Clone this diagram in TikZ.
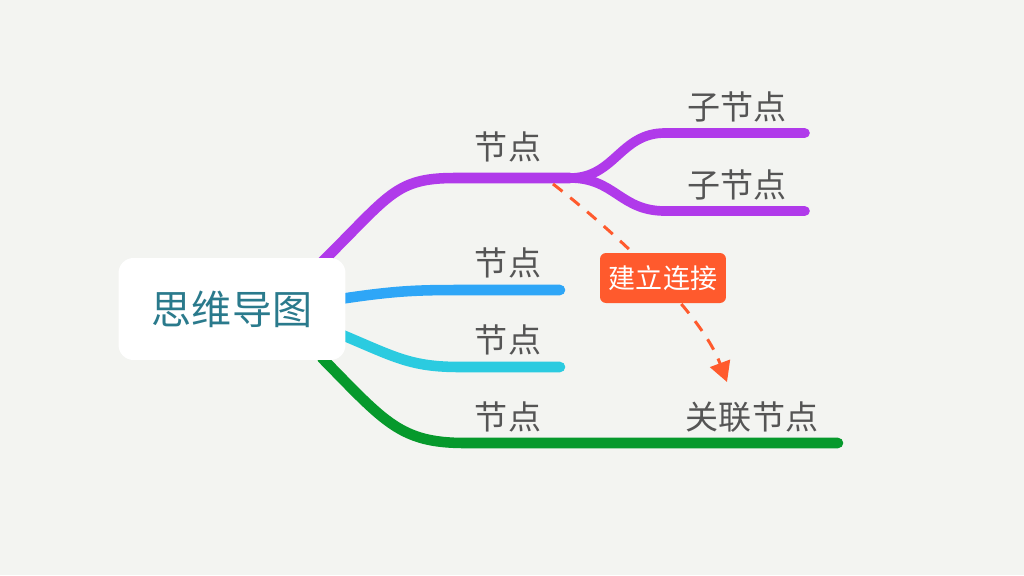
\documentclass[tikz,border=0pt]{standalone}
\usepackage{fontspec}
\setmainfont{Noto Sans CJK SC}
\usetikzlibrary{arrows.meta}
\definecolor{sfondo}{HTML}{F3F4F1}
\definecolor{viola}{HTML}{B03AEA}
\definecolor{azzurro}{HTML}{2EA6F7}
\definecolor{ciano}{HTML}{2BCBE0}
\definecolor{verde}{HTML}{06992C}
\definecolor{arancio}{HTML}{FF5A2D}
\definecolor{grigio}{HTML}{555555}
\definecolor{petrolio}{HTML}{2A7A8C}
\tikzset{
>=Stealth,
radice/.style={fill=white,rounded corners=0.3cm,minimum width=4.54cm,minimum height=2.04cm,text=petrolio,font=\fontsize{22.8}{24}\selectfont},
etichetta/.style={text=grigio,inner sep=0pt,font=\fontsize{18.8}{20}\selectfont},
ramo/.style={line width=6pt,line cap=round},
sottoramo/.style={line width=5.5pt,line cap=round},
legame/.style={draw=arancio,line width=1.7pt,dash pattern=on 0.24cm off 0.2cm,-{Triangle[length=0.4cm,width=0.42cm]}},
cartellino/.style={fill=arancio,text=white,rounded corners=0.12cm,minimum width=2.52cm,minimum height=1cm,font=\fontsize{15.4}{17}\selectfont}}

\begin{document}
\begin{tikzpicture}[x=0.02cm,y=-0.02cm]

\fill[sfondo] (0,0) rectangle (1024,575);

\coordinate (p0) at (322,262);
\coordinate (p1) at (570,178);
\coordinate (p2) at (805,133);
\coordinate (p3) at (805,211);
\coordinate (b0) at (340,299);
\coordinate (b1) at (560,290);
\coordinate (c0) at (340,334);
\coordinate (c1) at (560,367);
\coordinate (v0) at (322,358);
\coordinate (v1) at (838,443);

\draw[ramo,viola] (p0) .. controls (390,195) and (395,178) .. (455,178) -- (p1);
\draw[sottoramo,viola] (p1) .. controls (615,178) and (620,133) .. (665,133) -- (p2);
\draw[sottoramo,viola] (p1) .. controls (615,178) and (620,211) .. (665,211) -- (p3);
\draw[ramo,azzurro] (b0) .. controls (400,290) and (420,290) .. (470,290) -- (b1);
\draw[ramo,ciano] (c0) .. controls (395,357) and (410,367) .. (460,367) -- (c1);
\draw[ramo,verde] (v0) .. controls (385,422) and (400,443) .. (465,443) -- (v1);

\node[radice] (mappa) at (232,309) {思维导图};

\node[etichetta] (n1) at (508,147) {节点};
\node[etichetta] (n2) at (508,263) {节点};
\node[etichetta] (n3) at (508,340) {节点};
\node[etichetta] (n4) at (508,417) {节点};
\node[etichetta] (s1) at (737,107) {子节点};
\node[etichetta] (s2) at (737,185) {子节点};
\node[etichetta] (rel) at (752,417) {关联节点};

\coordinate (l0) at (553,184);
\coordinate (l1) at (727,382);
\draw[legame] (l0) .. controls (610,228) and (700,310) .. (l1);
\node[cartellino] (lk) at (663,278) {建立连接};

\end{tikzpicture}
\end{document}
